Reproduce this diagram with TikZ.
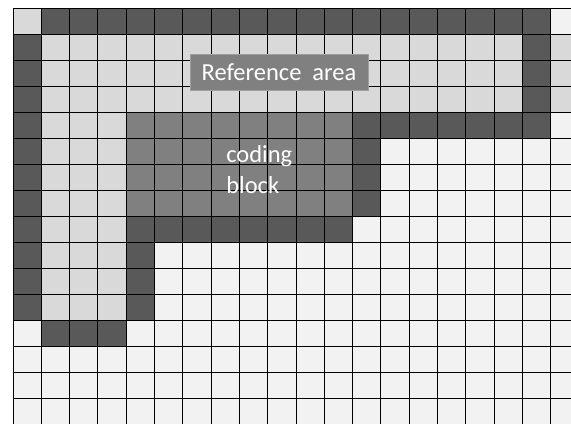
\documentclass[tikz,border=0pt]{standalone}
\usepackage{fontspec}
\setmainfont{Carlito}
\usetikzlibrary{positioning}

\definecolor{cellDark}{HTML}{595959}
\definecolor{cellMid}{HTML}{808080}
\definecolor{cellLight}{HTML}{D9D9D9}
\definecolor{cellPale}{HTML}{F2F2F2}

\begin{document}
\begin{tikzpicture}[
    x=28.3pt, y=-26pt,
    gridline/.style={black, line width=0.9pt},
    blocktext/.style={text=white, inner sep=0pt, font=\fontsize{24.5}{30}\selectfont}
]
\useasboundingbox (-0.46,-0.31) rectangle (19.72,16);

% Background cells
\fill[cellPale] (0,0) rectangle (19.72,16);

% Reference area (light)
\fill[cellLight] (0,0) rectangle (1,1);
\fill[cellLight] (1,1) rectangle (18,4);
\fill[cellLight] (19,1) rectangle (19.72,4);
\fill[cellLight] (1,4) rectangle (4,12);

% Coding block (mid)
\fill[cellMid] (4,4) rectangle (12,8);

% Dark border cells
\fill[cellDark] (1,0) rectangle (19,1);
\fill[cellDark] (0,1) rectangle (1,12);
\fill[cellDark] (18,1) rectangle (19,4);
\fill[cellDark] (12,4) rectangle (19,5);
\fill[cellDark] (12,5) rectangle (13,8);
\fill[cellDark] (4,8) rectangle (12,9);
\fill[cellDark] (4,9) rectangle (5,12);
\fill[cellDark] (1,12) rectangle (4,13);

% Grid
\foreach \c in {0,...,19}
    \draw[gridline] (\c,0) -- (\c,16);
\foreach \r in {0,...,15}
    \draw[gridline] (0,\r) -- (19.72,\r);

% Labels
\node[blocktext, fill=cellMid, draw=gray!75, thin,
      minimum width=178pt, minimum height=36pt] (refarea) at (9.4,2.46)
    {Reference\hspace{0.45em}area};
\node[blocktext, anchor=base west] (codingword) at (7.53,5.96) {coding};
\node[blocktext, anchor=base west] (blockword) at (7.53,7.12) {block};

\end{tikzpicture}
\end{document}
